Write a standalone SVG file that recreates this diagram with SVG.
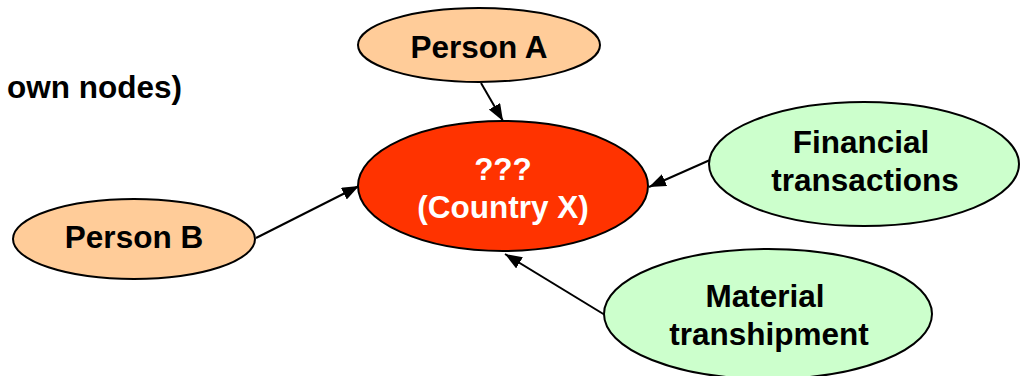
<svg xmlns="http://www.w3.org/2000/svg" width="1022" height="376" viewBox="0 0 1022 376">
<style>
.node ellipse{stroke:#000;stroke-width:2}
.person ellipse{fill:#FFCC99}
.green ellipse{fill:#CCFFCC}
.red ellipse{fill:#FF3300}
text{font-family:"Liberation Sans",Arial,sans-serif;font-weight:bold;font-size:31.5px;text-anchor:middle;fill:#000}
.red text{fill:#fff}
.edges line{stroke:#000;stroke-width:2}
</style>
<defs>
<marker id="arr" markerUnits="userSpaceOnUse" markerWidth="20" markerHeight="14" refX="17" refY="6.5" orient="auto">
<path d="M0,0 L17,6.5 L0,13 z" fill="#000"/>
</marker>
</defs>
<text x="182" y="98" style="text-anchor:end">own nodes)</text>
<g class="edges">
<line x1="481" y1="83" x2="503" y2="121" marker-end="url(#arr)"/>
<line x1="256" y1="238" x2="359" y2="186" marker-end="url(#arr)"/>
<line x1="710" y1="160" x2="649" y2="187" marker-end="url(#arr)"/>
<line x1="605" y1="315" x2="505" y2="254" marker-end="url(#arr)"/>
</g>
<g id="personA" class="node person">
<ellipse cx="479" cy="45" rx="121" ry="37"/>
<text x="479" y="58">Person A</text>
</g>
<g id="countryX" class="node red">
<ellipse cx="503" cy="186" rx="145" ry="65"/>
<text x="503" y="180">???</text>
<text x="503" y="218">(Country X)</text>
</g>
<g id="personB" class="node person">
<ellipse cx="134" cy="239" rx="121" ry="40"/>
<text x="134" y="248">Person B</text>
</g>
<g id="financial" class="node green">
<ellipse cx="864" cy="164" rx="155" ry="62"/>
<text x="861" y="153">Financial</text>
<text x="865" y="191">transactions</text>
</g>
<g id="material" class="node green">
<ellipse cx="768" cy="314" rx="164" ry="65"/>
<text x="765" y="307">Material</text>
<text x="769" y="345">transhipment</text>
</g>
</svg>
